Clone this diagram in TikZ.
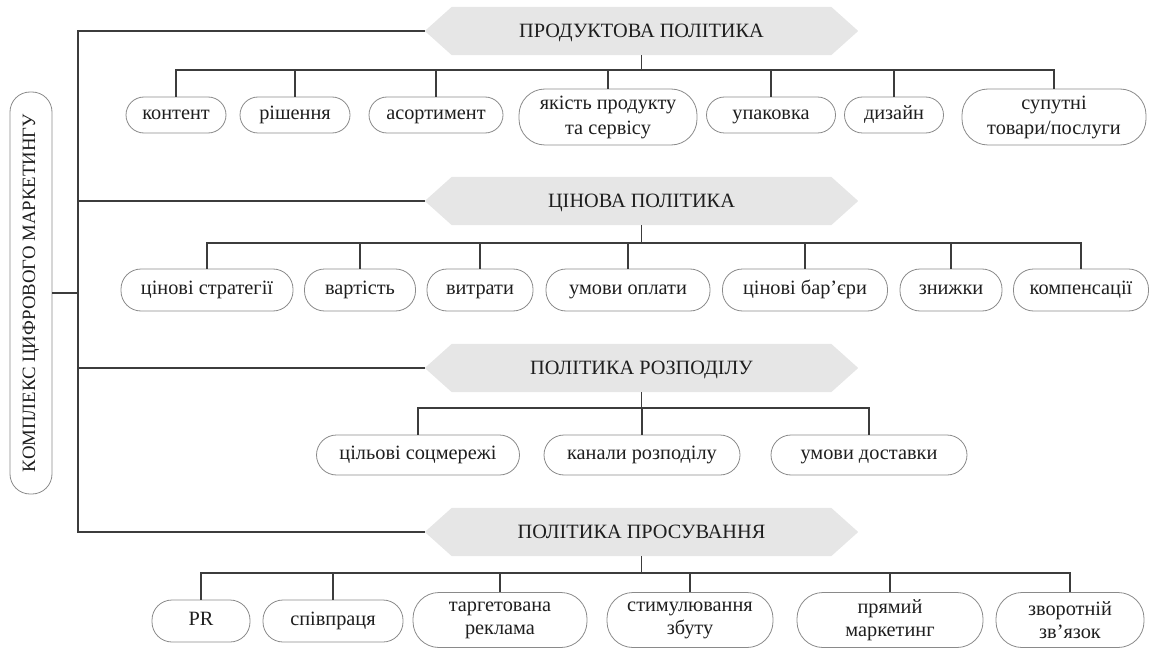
\documentclass[tikz,border=0pt]{standalone}
\usepackage{fontspec}
\setmainfont{Liberation Serif}
\usetikzlibrary{backgrounds}
\definecolor{linecol}{HTML}{3C3C3C}
\definecolor{boxcol}{HTML}{8A8A8A}
\definecolor{hdrcol}{HTML}{E6E6E6}
\definecolor{txtcol}{HTML}{1E1E1E}
\begin{document}
\begin{tikzpicture}[x=1pt,y=-1pt,
  conn/.style={draw=linecol,line width=1.1pt},
  itembox/.style={draw=boxcol,line width=0.8pt,rounded corners=#1,inner sep=0pt,align=center,text=txtcol,font=\fontsize{20.3}{23}\selectfont},
  itembox/.default=18pt,
  onel/.style={text height=14pt,text depth=4.5pt},
  hdr/.style={minimum width=433pt,minimum height=48pt,inner sep=0pt,text=txtcol,font=\fontsize{20.3}{23}\selectfont,text height=14pt,text depth=1pt},
]
\useasboundingbox (0,0) rectangle (1157,650);

% headers
\node[hdr] (h1) at (641.5,31) {ПРОДУКТОВА ПОЛІТИКА};
\node[hdr] (h2) at (641.5,201) {ЦІНОВА ПОЛІТИКА};
\node[hdr] (h3) at (641.5,368) {ПОЛІТИКА РОЗПОДІЛУ};
\node[hdr] (h4) at (641.5,532) {ПОЛІТИКА ПРОСУВАННЯ};
\begin{pgfonlayer}{background}
\foreach \h in {h1,h2,h3,h4}{
  \fill[hdrcol] (\h.west) -- ([xshift=27pt]\h.north west) -- ([xshift=-27pt]\h.north east) -- (\h.east) -- ([xshift=-27pt]\h.south east) -- ([xshift=27pt]\h.south west) -- cycle;
}
\end{pgfonlayer}

% left box
\node[draw=boxcol,line width=0.8pt,rounded corners=20pt,minimum width=42pt,minimum height=402pt,inner sep=0pt] (lb) at (31,293) {};
\node[rotate=90,inner sep=0pt,text=txtcol,font=\fontsize{18.8}{22}\selectfont] (lbt) at (lb.center) {КОМПЛЕКС ЦИФРОВОГО МАРКЕТИНГУ};

\coordinate (vt) at (78,31);
\draw[conn] (h1.west) -- (h1.west -| vt) -- (h4.west -| vt) -- (h4.west);
\draw[conn] (h2.west) -- (h2.west -| vt);
\draw[conn] (h3.west) -- (h3.west -| vt);
\draw[conn] (lb.east) -- (lb.east -| vt);

% row 1
\coordinate (b1) at (641.5,70);
\node[itembox,onel,minimum width=100pt,minimum height=36pt] (n11) at (176,115) {контент};
\node[itembox,onel,minimum width=110pt,minimum height=36pt] (n12) at (295,115) {рішення};
\node[itembox,onel,minimum width=134pt,minimum height=36pt] (n13) at (436,115) {асортимент};
\node[itembox=26pt,minimum width=178pt,minimum height=56pt] (n14) at (608,117) {якість продукту\\[2pt]та сервісу};
\node[itembox,onel,minimum width=129pt,minimum height=36pt] (n15) at (771,115) {упаковка};
\node[itembox,onel,minimum width=99pt,minimum height=36pt] (n16) at (894,115) {дизайн};
\node[itembox=26pt,minimum width=184pt,minimum height=56pt] (n17) at (1054,117) {супутні\\[2pt]товари/послуги};
\draw[conn] (h1.south) -- (b1);
\foreach \n in {n11,n12,n13,n14,n15,n16,n17}{\draw[conn] (\n.north) |- (b1);}

% row 2
\coordinate (b2) at (641.5,243);
\node[itembox=20pt,onel,minimum width=172pt,minimum height=42pt] (n21) at (207,290) {цінові стратегії};
\node[itembox=20pt,onel,minimum width=111pt,minimum height=42pt] (n22) at (360,290) {вартість};
\node[itembox=20pt,onel,minimum width=106pt,minimum height=42pt] (n23) at (480,290) {витрати};
\node[itembox=20pt,onel,minimum width=164pt,minimum height=42pt] (n24) at (628,290) {умови оплати};
\node[itembox=20pt,onel,minimum width=165pt,minimum height=42pt] (n25) at (805,290) {цінові бар’єри};
\node[itembox=20pt,onel,minimum width=102pt,minimum height=42pt] (n26) at (951,290) {знижки};
\node[itembox=20pt,onel,minimum width=135pt,minimum height=42pt] (n27) at (1081,290) {компенсації};
\draw[conn] (h2.south) -- (b2);
\foreach \n in {n21,n22,n23,n24,n25,n26,n27}{\draw[conn] (\n.north) |- (b2);}

% row 3
\coordinate (b3) at (641.5,408);
\node[itembox=20pt,onel,minimum width=203pt,minimum height=40pt] (n31) at (418,455) {цільові соцмережі};
\node[itembox=20pt,onel,minimum width=196pt,minimum height=40pt] (n32) at (642,455) {канали розподілу};
\node[itembox=20pt,onel,minimum width=196pt,minimum height=40pt] (n33) at (869,455) {умови доставки};
\draw[conn] (h3.south) -- (b3);
\foreach \n in {n31,n32,n33}{\draw[conn] (\n.north) |- (b3);}

% row 4
\coordinate (b4) at (641.5,573);
\node[itembox=20pt,onel,minimum width=98pt,minimum height=42pt] (n41) at (201,621) {PR};
\node[itembox=20pt,onel,minimum width=140pt,minimum height=42pt] (n42) at (333,621) {співпраця};
\node[itembox=26pt,minimum width=174pt,minimum height=55pt] (n43) at (500,620) {таргетована\\реклама};
\node[itembox=26pt,minimum width=166pt,minimum height=55pt] (n44) at (690,620) {стимулювання\\збуту};
\node[itembox=26pt,minimum width=186pt,minimum height=55pt] (n45) at (890,620) {прямий\\маркетинг};
\node[itembox=26pt,minimum width=148pt,minimum height=55pt] (n46) at (1070,620) {зворотній\\зв’язок};
\draw[conn] (h4.south) -- (b4);
\foreach \n in {n41,n42,n43,n44,n45,n46}{\draw[conn] (\n.north) |- (b4);}
\end{tikzpicture}
\end{document}
